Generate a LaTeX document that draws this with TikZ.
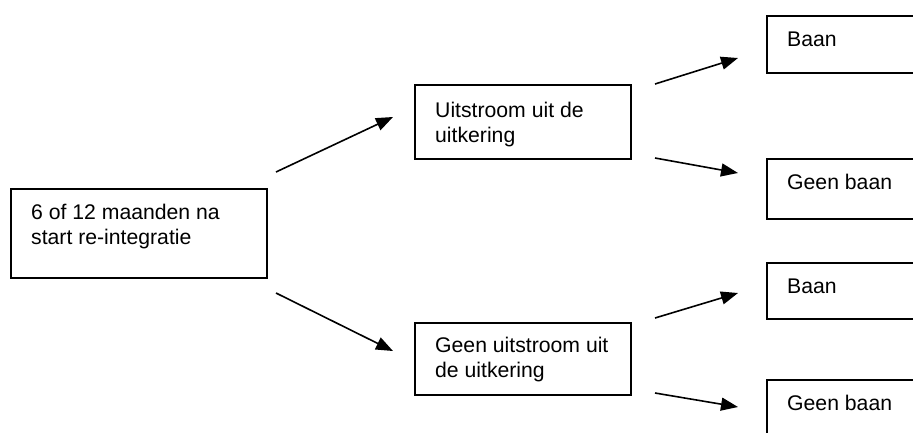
\documentclass[tikz,border=0pt]{standalone}
\usepackage{fontspec}
\setmainfont{Liberation Sans}
\usetikzlibrary{arrows.meta}
\begin{document}
\begin{tikzpicture}[x=1pt,y=-1pt,
        kader/.style={draw,rectangle,line width=1.5pt,anchor=north west,inner sep=0pt},
        tekst/.style={anchor=base west,align=left,inner sep=0pt,font=\fontsize{21.2}{25}\selectfont},
        pijl/.style={line width=1.6pt,-{Triangle[length=17pt,width=13pt]}}]
        \useasboundingbox (0,0) rectangle (913,432);
        \clip (0,0) rectangle (913,432);

        % base of a two-line node is its last line
        \node [kader,minimum width=256,minimum height=89] (start) at (10,188) {};
        \node [tekst] (starttekst) at ([shift={(21,56)}]start.north west) {6 of 12 maanden na\\start re-integratie};

        \node [kader,minimum width=216,minimum height=74] (uitstroom) at (414,84) {};
        \node [tekst] (uitstroomtekst) at ([shift={(21,58)}]uitstroom.north west) {Uitstroom uit de\\uitkering};

        \node [kader,minimum width=216,minimum height=72] (geenuitstroom) at (414,322) {};
        \node [tekst] (geenuitstroomtekst) at ([shift={(21,55)}]geenuitstroom.north west) {Geen uitstroom uit\\de uitkering};

        \foreach \n/\y/\h/\t in {1/15/57/Baan,2/158/60/Geen baan,3/262/56/Baan,4/379/80/Geen baan}{
            \node [kader,minimum width=200,minimum height=\h] (baan\n) at (766,\y) {};
            \node [tekst] (baan\n tekst) at ([shift={(21,31)}]baan\n.north west) {\t};
        }

        \foreach \n/\xa/\ya/\xb/\yb in {1/276/172/393/117,2/276/293/393/351,
                3/655/84/738/58,4/655/158/738/173,5/655/318/738/293,6/655/393/738/407}{
            \coordinate (p\n a) at (\xa,\ya);
            \coordinate (p\n b) at (\xb,\yb);
            \draw [pijl] (p\n a) -- (p\n b);
        }
    \end{tikzpicture}
\end{document}
